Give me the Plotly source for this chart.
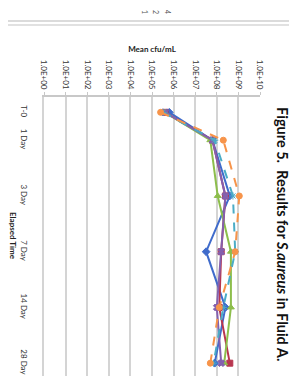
import plotly.graph_objects as go

# ---------------- data ----------------
elapsed = ["T-0", "1 Day", "3 Day", "7 Day", "14 Day", "28 Day"]
value_ticks = [1e0, 1e1, 1e2, 1e3, 1e4, 1e5, 1e6, 1e7, 1e8, 1e9, 1e10]
value_tick_labels = ["1.0E+00", "1.0E+01", "1.0E+02", "1.0E+03", "1.0E+04", "1.0E+05",
                     "1.0E+06", "1.0E+07", "1.0E+08", "1.0E+09", "1.0E+10"]

series_1 = [6.3e5, 6.3e7, 4.0e8, 3.2e7, 2.5e8, 8.0e7]
series_2 = [4.0e5, 6.3e7, 2.5e8, 1.6e8, 1.3e8, 4.0e8]
series_3 = [4.0e5, 5.0e7, 1.1e8, 4.5e8, 4.5e8, 2.2e8]
series_4 = [4.0e5, 6.3e7, 2.5e8, 1.6e8, 1.0e8, 1.6e8]
series_5 = [3.2e5, 8.0e7, 5.6e8, 7.1e8, 2.0e8, 7.1e7]
series_6 = [2.5e5, 2.0e8, 1.1e9, 7.1e8, 1.3e8, 5.0e7]
series_names = ["1", "2", "3", "4", "5", "6"]

# ---------------- layout helpers ----------------
W, H = 297, 378
L, R, T, B = 36, 252, 89, 368          # plot area in pixels
cat_axis_pos = [0.5, 1, 2, 3, 4, 5]     # where each elapsed-time category sits on the axis
y_range = [5.23, 0.225]

def px(xp):
    return (xp - L) / (R - L)

def py(yp):
    return (B - yp) / (B - T)

styles = [
    dict(color="#3F6BCB", symbol="diamond", dash="solid"),
    dict(color="#B8364F", symbol="square", dash="solid"),
    dict(color="#8DBE4C", symbol="triangle-up", dash="solid"),
    dict(color="#8460AE", symbol="x", dash="solid"),
    dict(color="#4BACC6", symbol="asterisk-open", dash="dash"),
    dict(color="#F7944A", symbol="circle", dash="dash"),
]

fig = go.Figure()
for name, vals, st in zip(series_names,
                          [series_1, series_2, series_3, series_4, series_5, series_6],
                          styles):
    fig.add_trace(go.Scatter(
        x=vals, y=cat_axis_pos, name=name, mode="lines+markers",
        line=dict(color=st["color"], width=2, dash=st["dash"]),
        marker=dict(symbol=st["symbol"], size=6, color=st["color"],
                    line=dict(color=st["color"], width=1)),
        showlegend=False,
    ))

font_family = "Lato, 'Open Sans', sans-serif"

fig.update_layout(
    width=W, height=H,
    margin=dict(l=L, r=W - R, t=T, b=H - B),
    paper_bgcolor="white", plot_bgcolor="white",
    font=dict(family=font_family, color="#222"),
    xaxis=dict(
        type="log", range=[0, 10], side="top",
        tickvals=value_ticks, ticktext=value_tick_labels, tickangle=90,
        tickfont=dict(size=8, color="#333"),
        showgrid=True, gridcolor="#D4D4D4", gridwidth=1.5,
        showline=True, linecolor="#C8C8C8", linewidth=1.5,
        ticks="outside", ticklen=3, tickcolor="#C8C8C8",
        zeroline=False,
        title=dict(text="<b>Mean cfu/mL</b>", font=dict(size=8, color="#222"), standoff=6),
    ),
    yaxis=dict(
        range=y_range, tickvals=cat_axis_pos, ticktext=elapsed, tickangle=90,
        tickfont=dict(size=8, color="#333"),
        showgrid=False, zeroline=False,
        showline=True, linecolor="#D4D4D4", linewidth=1.5,
        ticks="", ticklabelstandoff=12,
    ),
    annotations=[
        dict(text="<b>Elapsed Time</b>", textangle=90, x=px(5), y=py(228),
             xanchor="center", yanchor="middle",
             xref="paper", yref="paper", showarrow=False,
             font=dict(size=8, color="#222")),
        dict(text="<b>Figure 5.  Results for <i>S.aureus</i> in Fluid A.</b>", textangle=90,
             x=px(275), y=py(226), xanchor="center", yanchor="middle",
             xref="paper", yref="paper", showarrow=False,
             font=dict(size=14.5, color="#111")),
        dict(text="1", textangle=90, x=px(137), y=py(4), xanchor="center", yanchor="middle",
             xref="paper", yref="paper",
             showarrow=False, font=dict(size=7, color="#555")),
        dict(text="2", textangle=90, x=px(148), y=py(4), xanchor="center", yanchor="middle",
             xref="paper", yref="paper",
             showarrow=False, font=dict(size=7, color="#555")),
        dict(text="4", textangle=90, x=px(160), y=py(4), xanchor="center", yanchor="middle",
             xref="paper", yref="paper",
             showarrow=False, font=dict(size=7, color="#555")),
    ],
    shapes=[
        dict(type="rect", xref="paper", yref="paper",
             x0=px(-5), x1=px(291), y0=py(-10), y1=py(13),
             line=dict(color="#D0D0D0", width=1.5)),
        dict(type="rect", xref="paper", yref="paper",
             x0=px(-5), x1=px(294), y0=py(17), y1=py(390),
             line=dict(color="#D8D8D8", width=1.5)),
    ],
)

fig.write_html("out.html")
